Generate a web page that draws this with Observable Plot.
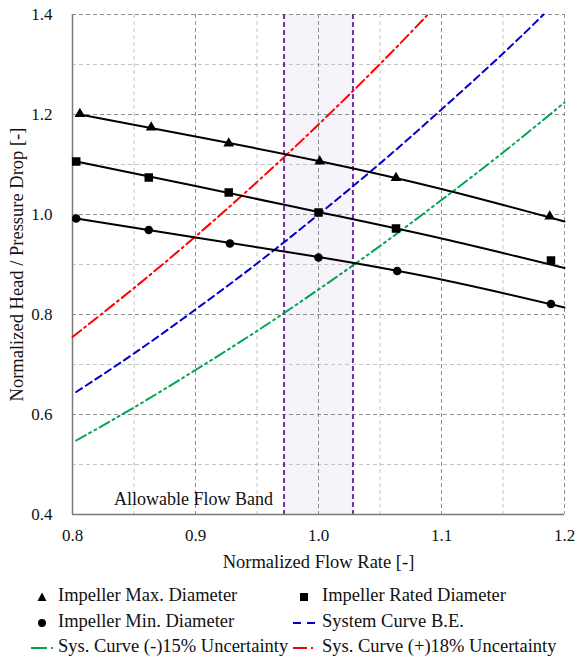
<!DOCTYPE html>
<html>
<head>
<meta charset="utf-8">
<script src="https://cdn.jsdelivr.net/npm/d3@7"></script>
<script src="https://cdn.jsdelivr.net/npm/@observablehq/plot@0.6"></script>
<style>
  html, body { margin: 0; padding: 0; background: white; }
  #wrap { position: relative; width: 575px; height: 659px; font-family: "Liberation Serif", Tinos, "Times New Roman", Times, "DejaVu Serif", serif; }
  #legend { position: absolute; left: 0; top: 580px; width: 575px; height: 79px; font-size: 18.5px; color: #111; }
  .sym { position: absolute; }
  .lab { position: absolute; white-space: nowrap; line-height: 20px; }
</style>
</head>
<body>
<div id="wrap"><div id="chart"></div><div id="legend"></div></div>
<script>
// ---- data ----
const xTicks = [0.8, 0.9, 1.0, 1.1, 1.2];
const yTicks = [0.4, 0.6, 0.8, 1.0, 1.2, 1.4];
const xMajor = [0.9, 1.0, 1.1, 1.2];
const xMinor = [0.85, 0.95, 1.05, 1.15];
const yMajor = [0.6, 0.8, 1.0, 1.2, 1.4];
const yMinor = [0.5, 0.7, 0.9, 1.1, 1.3];
const bandLo = 0.972, bandHi = 1.028;

// pump curve markers
const maxX = [0.806, 0.864, 0.927, 1.001, 1.063, 1.188];
const maxY = [1.201, 1.174, 1.142, 1.106, 1.073, 0.996];
const ratedX = [0.803, 0.862, 0.927, 1.000, 1.063, 1.189];
const ratedY = [1.106, 1.074, 1.044, 1.004, 0.972, 0.908];
const minX = [0.803, 0.862, 0.928, 1.000, 1.064, 1.189];
const minY = [0.992, 0.969, 0.942, 0.914, 0.887, 0.821];

// pump curve lines
const maxLineX = [0.806, 0.9, 1.0, 1.1, 1.2];
const maxLineY = [1.200, 1.156, 1.107, 1.051, 0.986];
const ratedLineX = [0.803, 0.9, 1.0, 1.1, 1.2];
const ratedLineY = [1.106, 1.057, 1.005, 0.952, 0.893];
const minLineX = [0.803, 0.9, 1.0, 1.1, 1.2];
const minLineY = [0.992, 0.954, 0.915, 0.870, 0.814];

// system curves
const beX = [0.803, 0.85, 0.9, 0.95, 1.0, 1.05, 1.1, 1.15, 1.183];
const beY = [0.645, 0.722, 0.810, 0.902, 1.000, 1.102, 1.210, 1.322, 1.400];
const plusX = [0.80, 0.85, 0.9, 0.95, 1.0, 1.05, 1.089];
const plusY = [0.755, 0.853, 0.956, 1.065, 1.180, 1.301, 1.400];
const minusX = [0.803, 0.85, 0.9, 0.95, 1.0, 1.05, 1.1, 1.15, 1.2];
const minusY = [0.548, 0.614, 0.689, 0.767, 0.850, 0.937, 1.029, 1.124, 1.224];

const bandLabel = "Allowable Flow Band";
const legendLabels = [
  "Impeller Max. Diameter", "Impeller Rated Diameter",
  "Impeller Min. Diameter", "System Curve B.E.",
  "Sys. Curve (-)15% Uncertainty", "Sys. Curve (+)18% Uncertainty"
];

// ---- build ----
const zip = (xs, ys) => xs.map((x, i) => ({x, y: ys[i]}));
const font = "Liberation Serif, Tinos, Times New Roman, Times, DejaVu Serif, serif";
const dashBE = "7,4.5";
const dashPlus = "11,4,2,4";
const dashMinus = "11,4,2,4,2,4";

const chart = Plot.plot({
  width: 575,
  height: 580,
  marginTop: 14,
  marginRight: 11,
  marginBottom: 66,
  marginLeft: 72,
  style: {fontFamily: font, fontSize: "17px", color: "#111", background: "white", overflow: "visible"},
  x: {domain: [0.8, 1.2]},
  y: {domain: [0.4, 1.4]},
  marks: [
    Plot.rect([{lo: bandLo, hi: bandHi}], {x1: "lo", x2: "hi", fill: "#f6f3fb"}),
    Plot.ruleX(xMinor, {stroke: "#c4c4c4", strokeWidth: 1, strokeDasharray: "4,3"}),
    Plot.ruleY(yMinor, {stroke: "#c4c4c4", strokeWidth: 1, strokeDasharray: "4,3"}),
    Plot.ruleX(xMajor, {stroke: "#8f8f8f", strokeWidth: 1, strokeDasharray: "4,3"}),
    Plot.ruleY(yMajor, {stroke: "#8f8f8f", strokeWidth: 1, strokeDasharray: "4,3"}),
    Plot.ruleX([bandLo, bandHi], {stroke: "#7030a0", strokeWidth: 2, strokeDasharray: "5,3"}),
    Plot.ruleX([0.8], {stroke: "#7a7a7a", strokeWidth: 1.5}),
    Plot.ruleY([0.4], {stroke: "#7a7a7a", strokeWidth: 1.5}),
    Plot.axisX({ticks: xTicks, tickSize: 0, tickPadding: 14, tickFormat: d3.format(".1f"), fontSize: 17,
      label: null}),
    Plot.axisX({ticks: [], tickSize: 0, fontSize: 18.5,
      label: "Normalized Flow Rate [-]", labelAnchor: "center", labelArrow: "none", labelOffset: 53}),
    Plot.axisY({ticks: yTicks, tickSize: 0, tickPadding: 20, tickFormat: d3.format(".1f"), fontSize: 17,
      label: null}),
    Plot.axisY({ticks: [], tickSize: 0, fontSize: 18.5,
      label: "Normalized Head / Pressure Drop [-]", labelAnchor: "center", labelArrow: "none", labelOffset: 63}),
    Plot.line(zip(minusX, minusY), {x: "x", y: "y", stroke: "#00a651", strokeWidth: 2, strokeDasharray: dashMinus, curve: "natural"}),
    Plot.line(zip(beX, beY), {x: "x", y: "y", stroke: "#0000c8", strokeWidth: 2, strokeDasharray: dashBE, curve: "natural"}),
    Plot.line(zip(plusX, plusY), {x: "x", y: "y", stroke: "#ff0000", strokeWidth: 2, strokeDasharray: dashPlus, curve: "natural"}),
    Plot.line(zip(maxLineX, maxLineY), {x: "x", y: "y", stroke: "#000", strokeWidth: 2, curve: "natural"}),
    Plot.line(zip(ratedLineX, ratedLineY), {x: "x", y: "y", stroke: "#000", strokeWidth: 2, curve: "natural"}),
    Plot.line(zip(minLineX, minLineY), {x: "x", y: "y", stroke: "#000", strokeWidth: 2, curve: "natural"}),
    Plot.dot(zip(maxX, maxY), {x: "x", y: "y", symbol: "triangle", r: 4, fill: "#000"}),
    Plot.dot(zip(ratedX, ratedY), {x: "x", y: "y", symbol: "square", r: 4.8, fill: "#000"}),
    Plot.dot(zip(minX, minY), {x: "x", y: "y", symbol: "circle", r: 4.3, fill: "#000"}),
    Plot.text([bandLabel], {x: bandLo, y: 0.4, text: d => d, textAnchor: "end", dx: -11, dy: -15, fontSize: 18, fill: "#111"})
  ]
});
document.getElementById("chart").appendChild(chart);

// ---- legend ----
const legend = document.getElementById("legend");
const sym = {
  tri: `<svg width="14" height="14"><path d="M7,2.5 L11.5,11 L2.5,11 Z" fill="#000"/></svg>`,
  sq: `<svg width="14" height="14"><rect x="3" y="3" width="8" height="8" fill="#000"/></svg>`,
  ci: `<svg width="14" height="14"><circle cx="7" cy="7" r="4" fill="#000"/></svg>`,
  be: `<svg width="24" height="14"><line x1="0" y1="7" x2="24" y2="7" stroke="#0000c8" stroke-width="2" stroke-dasharray="8,6"/></svg>`,
  minus: `<svg width="24" height="14"><line x1="0" y1="7" x2="24" y2="7" stroke="#00a651" stroke-width="2" stroke-dasharray="16,4,2,10"/></svg>`,
  plus: `<svg width="24" height="14"><line x1="0" y1="7" x2="24" y2="7" stroke="#ff0000" stroke-width="2" stroke-dasharray="14,4,2,10"/></svg>`
};
const items = [
  {s: sym.tri, sx: 35, tx: 58, cy: 15},
  {s: sym.sq, sx: 297, tx: 322, cy: 15},
  {s: sym.ci, sx: 35, tx: 58, cy: 41},
  {s: sym.be, sx: 293, tx: 322, cy: 41},
  {s: sym.minus, sx: 31, tx: 58, cy: 66},
  {s: sym.plus, sx: 293, tx: 322, cy: 66}
];
items.forEach((it, i) => {
  const s = document.createElement("div");
  s.className = "sym";
  s.style.left = it.sx + "px";
  s.style.top = (it.cy - 7) + "px";
  s.innerHTML = it.s;
  legend.appendChild(s);
  const t = document.createElement("div");
  t.className = "lab";
  t.style.left = it.tx + "px";
  t.style.top = (it.cy - 10) + "px";
  t.textContent = legendLabels[i];
  legend.appendChild(t);
});
</script>
</body>
</html>
